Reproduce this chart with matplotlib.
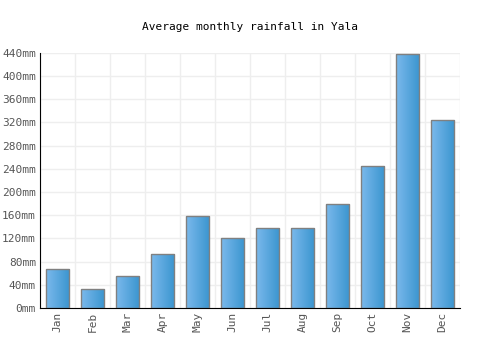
import numpy as np
import matplotlib
matplotlib.use('Agg')
import matplotlib.pyplot as plt
from matplotlib.colors import LinearSegmentedColormap

months = ['Jan', 'Feb', 'Mar', 'Apr', 'May', 'Jun', 'Jul', 'Aug', 'Sep', 'Oct', 'Nov', 'Dec']
rain = [67, 33, 55, 93, 159, 121, 138, 138, 179, 245, 438, 324]
yticks = list(range(0, 441, 40))

plt.rcParams['font.family'] = 'DejaVu Sans Mono'

fig = plt.figure(figsize=(5, 3.5), dpi=100)
ax = fig.add_axes([0.08, 0.12, 0.84, 0.729])

x = np.arange(len(months))
bars = ax.bar(x, rain, width=0.66, color='none', edgecolor='#808080', linewidth=1, zorder=3)

# left-to-right gradient inside each bar
cmap = LinearSegmentedColormap.from_list('g', ['#7bb9ec', '#3a95cf'])
grad = np.linspace(0, 1, 64).reshape(1, -1)
for b in bars:
    x0, w, h = b.get_x(), b.get_width(), b.get_height()
    im = ax.imshow(grad, cmap=cmap, extent=[x0, x0 + w, 0, h], aspect='auto', zorder=2)
    im.set_clip_path(b)

ax.set_xlim(-0.5, len(months) - 0.5)
ax.set_ylim(0, 440)
ax.set_yticks(yticks)
ax.set_yticklabels([f'{v}mm' for v in yticks], fontsize=8, color='#555555')
ax.set_xticks(x)
ax.set_xticklabels(months, rotation=90, fontsize=8, color='#555555')
ax.set_xticks(np.arange(-0.5, len(months)), minor=True)
ax.tick_params(axis='both', which='both', length=0, pad=3)
ax.grid(True, which='major', axis='y', color='#eeeeee', linewidth=1, zorder=0)
ax.grid(True, which='minor', axis='x', color='#eeeeee', linewidth=1, zorder=0)
ax.set_axisbelow(True)

for s in ['top', 'right']:
    ax.spines[s].set_visible(False)
ax.spines['left'].set_color('black')
ax.spines['bottom'].set_color('black')

fig.text(0.5, 0.922, 'Average monthly rainfall in Yala', ha='center', va='center',
         fontsize=8, color='black')

fig.savefig('out.png', dpi=100)
